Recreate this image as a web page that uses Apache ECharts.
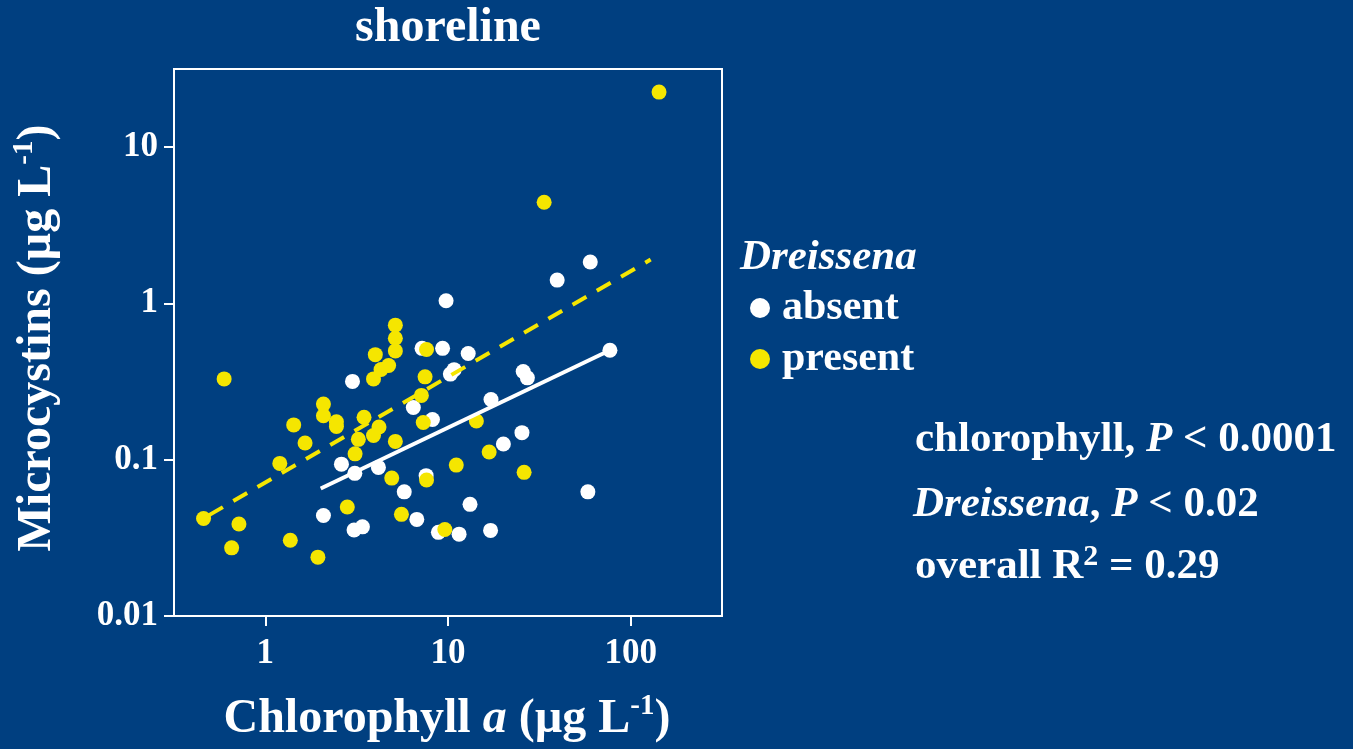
<!DOCTYPE html>
<html>
<head>
<meta charset="utf-8">
<script src="https://cdn.jsdelivr.net/npm/echarts@6.0.0/dist/echarts.min.js"></script>
<style>
html,body{margin:0;padding:0;background:#003f80;}
#chart{width:1353px;height:749px;}
</style>
</head>
<body>
<div id="chart"></div>
<script>
// ---- data ----
var absentPoints = [
  [3.00,0.317],[2.61,0.0937],[3.09,0.0818],[4.16,0.0893],[2.08,0.0440],
  [3.06,0.0355],[3.40,0.0372],[5.76,0.0623],[6.75,0.0415],[6.46,0.216],
  [8.22,0.181],[7.21,0.516],[9.34,0.516],[7.59,0.0791],[8.86,0.0343],
  [10.3,0.353],[10.8,0.377],[12.9,0.478],[25.8,0.367],[27.2,0.334],
  [17.2,0.243],[20.1,0.126],[25.4,0.149],[13.2,0.0518],[11.5,0.0334],
  [17.1,0.0353],[58.3,0.0623],[77.0,0.502],[60.1,1.84],[39.6,1.41],[9.76,1.04]
];
var presentPoints = [
  [0.595,0.329],[0.459,0.0421],[0.717,0.0388],[0.654,0.0273],[1.37,0.0305],
  [1.94,0.0238],[1.20,0.0947],[1.65,0.128],[1.43,0.167],[2.08,0.227],
  [2.08,0.191],[2.45,0.175],[2.45,0.163],[3.47,0.187],[4.19,0.162],
  [3.91,0.143],[3.23,0.135],[3.10,0.109],[5.15,0.131],[4.92,0.0763],
  [2.81,0.0498],[5.56,0.0447],[4.00,0.470],[3.91,0.329],[4.30,0.378],
  [4.73,0.401],[5.15,0.726],[5.15,0.599],[5.15,0.497],[7.63,0.507],
  [7.49,0.339],[7.15,0.258],[7.32,0.173],[7.63,0.0741],[9.61,0.0358],
  [14.3,0.177],[16.8,0.112],[11.1,0.0924],[26.1,0.0830],[33.6,4.44],[143,22.5]
];
var fitAbsent = [[2.01,0.0655],[77.0,0.502]];
var fitPresent = [[0.492,0.0442],[128.7,1.909]];
var xTickValues = [1,10,100];
var xTickLabels = ['1','10','100'];
var yTickValues = [0.01,0.1,1,10];
var yTickLabels = ['0.01','0.1','1','10'];
var seriesNames = ['absent','present'];

// ---- styling ----
var FF = '"Liberation Serif","Times New Roman",serif';
var BG = '#003f80';
var YEL = '#f5e600';

function labelFor(values, labels){
  return function(v){
    for (var i=0;i<values.length;i++){
      if (Math.abs(Math.log10(v) - Math.log10(values[i])) < 1e-6) return labels[i];
    }
    return '';
  };
}

function rich(size, supScale){
  supScale = supScale || 0.6;
  return {
    n:{fill:'#fff',color:'#fff',fontFamily:FF,fontWeight:'bold',fontSize:size},
    i:{fill:'#fff',color:'#fff',fontFamily:FF,fontWeight:'bold',fontStyle:'italic',fontSize:size},
    s:{fill:'#fff',color:'#fff',fontFamily:FF,fontWeight:'bold',fontSize:Math.round(size*supScale),verticalAlign:'top',lineHeight:Math.round(size*0.62)}
  };
}
function richLH(size, lh, supScale){
  var r = rich(size, supScale); r.n.lineHeight = lh; r.i.lineHeight = lh; return r;
}

var chart = echarts.init(document.getElementById('chart'), null, {renderer:'canvas'});
chart.setOption({
  backgroundColor: BG,
  animation: false,
  grid: {left:174, top:69, width:548, height:547, show:true, borderColor:'#fff', borderWidth:2, backgroundColor:'transparent'},
  xAxis: {
    type:'log', logBase:10, min:Math.pow(10,-0.5), max:Math.pow(10,2.5),
    axisLine:{show:false},
    splitLine:{show:false},
    axisTick:{show:true, length:10, lineStyle:{color:'#fff', width:2}, customValues:xTickValues},
    axisLabel:{customValues:xTickValues, formatter:labelFor(xTickValues,xTickLabels), color:'#fff', fontFamily:FF, fontWeight:'bold', fontSize:35, margin:20}
  },
  yAxis: {
    type:'log', logBase:10, min:0.01, max:Math.pow(10,1.5),
    axisLine:{show:false},
    splitLine:{show:false},
    axisTick:{show:true, length:10, lineStyle:{color:'#fff', width:2}, customValues:yTickValues},
    axisLabel:{customValues:yTickValues, formatter:labelFor(yTickValues,yTickLabels), color:'#fff', fontFamily:FF, fontWeight:'bold', fontSize:35, margin:16}
  },
  legend: {
    data: seriesNames, orient:'vertical', left:745, top:282,
    itemWidth:20, itemHeight:20, itemGap:9, icon:'circle', selectedMode:false,
    textStyle:{color:'#fff', fontFamily:FF, fontWeight:'bold', fontSize:42, padding:[0,0,0,7]}
  },
  series: [
    {name:seriesNames[0], type:'scatter', data:absentPoints, symbol:'circle', symbolSize:15, itemStyle:{color:'#ffffff', opacity:1}, z:2},
    {name:seriesNames[1], type:'scatter', data:presentPoints, symbol:'circle', symbolSize:15, itemStyle:{color:YEL, opacity:1}, z:2},
    {name:'fitAbsent', type:'line', data:fitAbsent, symbol:'none', lineStyle:{color:'#ffffff', width:4}, z:3, silent:true},
    {name:'fitPresent', type:'line', data:fitPresent, symbol:'none', lineStyle:{color:YEL, width:4, type:[16,12]}, z:3, silent:true}
  ],
  graphic: [
    {type:'text', x:448, y:29, style:{text:'shoreline', fill:'#fff', font:'bold 48px '+FF, align:'center', verticalAlign:'middle', textAlign:'center', textVerticalAlign:'middle'}},
    {type:'text', x:447, y:720, style:{text:'{n|Chlorophyll }{i|a}{n| (µg L}{s|-1}{n|)}', rich:richLH(48,56), align:'center', verticalAlign:'middle', textAlign:'center', textVerticalAlign:'middle'}},
    {type:'text', x:38, y:338, rotation:Math.PI/2, style:{text:'{n|Microcystins (µg L}{s|-1}{n|)}', rich:richLH(48,56), align:'center', verticalAlign:'middle', textAlign:'center', textVerticalAlign:'middle'}},
    {type:'text', x:740, y:258, style:{text:'Dreissena', fill:'#fff', font:'italic bold 43px '+FF, align:'left', verticalAlign:'middle', textAlign:'left', textVerticalAlign:'middle'}},
    {type:'text', x:915, y:440, style:{text:'{n|chlorophyll, }{i|P}{n| < 0.0001}', rich:richLH(43,50), align:'left', verticalAlign:'middle', textAlign:'left', textVerticalAlign:'middle'}},
    {type:'text', x:913, y:505, style:{text:'{i|Dreissena}{n|, }{i|P}{n| < 0.02}', rich:richLH(43,50), align:'left', verticalAlign:'middle', textAlign:'left', textVerticalAlign:'middle'}},
    {type:'text', x:915, y:567, style:{text:'{n|overall R}{s|2}{n| = 0.29}', rich:richLH(43,50,0.7), align:'left', verticalAlign:'middle', textAlign:'left', textVerticalAlign:'middle'}}
  ]
});
</script>
</body>
</html>
